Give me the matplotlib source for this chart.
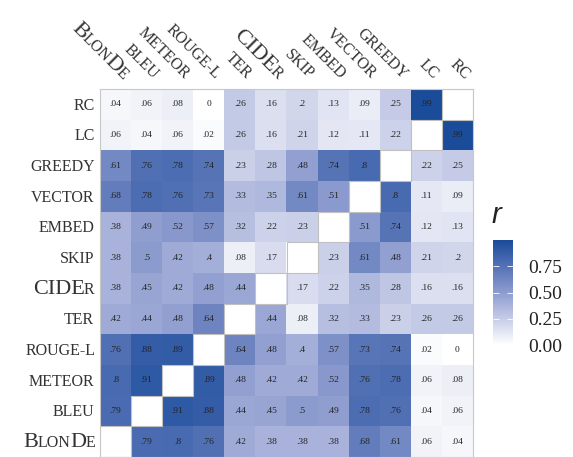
import numpy as np
import matplotlib
matplotlib.use("Agg")
import matplotlib.pyplot as plt
from matplotlib.colors import LinearSegmentedColormap
from matplotlib.font_manager import FontProperties
from matplotlib.patches import Rectangle
from matplotlib.textpath import TextPath
from matplotlib.transforms import offset_copy

# metric names; rows top->bottom, columns left->right
row_names = ["RC", "LC", "GREEDY", "VECTOR", "EMBED", "SKIP", "CIDEr",
             "TER", "ROUGE-L", "METEOR", "BLEU", "BlonDe"]
col_names = ["BlonDe", "BLEU", "METEOR", "ROUGE-L", "TER", "CIDEr",
             "SKIP", "EMBED", "VECTOR", "GREEDY", "LC", "RC"]

# small-caps pieces (text, is_big)
sc_pieces = {
    "BlonDe": [("B", True), ("LON", False), ("D", True), ("E", False)],
    "CIDEr": [("CIDE", True), ("R", False)],
}

nan = np.nan
r_RC = [.04, .06, .08, 0, .26, .16, .2, .13, .09, .25, .99, nan]
r_LC = [.06, .04, .06, .02, .26, .16, .21, .12, .11, .22, nan, .99]
r_GREEDY = [.61, .76, .78, .74, .23, .28, .48, .74, .8, nan, .22, .25]
r_VECTOR = [.68, .78, .76, .73, .33, .35, .61, .51, nan, .8, .11, .09]
r_EMBED = [.38, .49, .52, .57, .32, .22, .23, nan, .51, .74, .12, .13]
r_SKIP = [.38, .5, .42, .4, .08, .17, nan, .23, .61, .48, .21, .2]
r_CIDEr = [.38, .45, .42, .48, .44, nan, .17, .22, .35, .28, .16, .16]
r_TER = [.42, .44, .48, .64, nan, .44, .08, .32, .33, .23, .26, .26]
r_ROUGE = [.76, .88, .89, nan, .64, .48, .4, .57, .73, .74, .02, 0]
r_METEOR = [.8, .91, nan, .89, .48, .42, .42, .52, .76, .78, .06, .08]
r_BLEU = [.79, nan, .91, .88, .44, .45, .5, .49, .78, .76, .04, .06]
r_BlonDe = [nan, .79, .8, .76, .42, .38, .38, .38, .68, .61, .06, .04]

data = np.array([r_RC, r_LC, r_GREEDY, r_VECTOR, r_EMBED, r_SKIP, r_CIDEr,
                 r_TER, r_ROUGE, r_METEOR, r_BLEU, r_BlonDe])

cbar_ticks = [0.0, 0.25, 0.5, 0.75]

SERIF = "Liberation Serif"
SMALL = 11.5
BIG = 16

cmap = LinearSegmentedColormap.from_list(
    "wb", [(0, "#ffffff"), (0.25, "#c6cce7"), (0.5, "#8d9ccf"),
           (0.75, "#5472b6"), (1.0, "#1a4b9a")])


def fmt(v):
    s = f"{v:.2f}".rstrip("0").rstrip(".")
    if s.startswith("0."):
        s = s[1:]
    return s


fig = plt.figure(figsize=(5.73, 4.57), dpi=100)
ax = fig.add_axes([100 / 573, 0, 373 / 573, 368 / 457])
im = ax.imshow(np.ma.masked_invalid(data), cmap=cmap, vmin=0, vmax=1,
               aspect="auto", interpolation="nearest")
ax.set_xlim(-0.5, 11.5)
ax.set_ylim(11.5, -0.5)
ax.set_xticks([])
ax.set_yticks([])
for sp in ax.spines.values():
    sp.set_color("#c8c8c8")
    sp.set_linewidth(0.8)

n = len(row_names)
for i in range(n):
    for j in range(n):
        v = data[i, j]
        if np.isnan(v):
            ax.add_patch(Rectangle((j - 0.5, i - 0.5), 1, 1, fill=False,
                                   edgecolor="#c0c0c0", lw=0.8))
        else:
            ax.text(j, i, fmt(v), ha="center", va="center", fontsize=6.8,
                    family=SERIF, color="#222222")


def piece_width(s, size):
    # ink extent from pen origin, in points
    ext = TextPath((0, 0), s, size=size,
                   prop=FontProperties(family=SERIF)).get_extents()
    return ext.x1 + 0.01 * size


def draw_label(name, x, y, rotation, dx0=0, dy0=0):
    pieces = sc_pieces.get(name, [(name, False)])
    sizes = [BIG if big else SMALL for _, big in pieces]
    widths = [piece_width(s, sz) for (s, _), sz in zip(pieces, sizes)]
    total = sum(widths)
    th = np.deg2rad(rotation)
    pos = -total
    for (s, _), sz, w in zip(pieces, sizes, widths):
        tr = offset_copy(ax.transData, fig=fig, units="points",
                         x=dx0 + pos * np.cos(th), y=dy0 + pos * np.sin(th))
        ax.text(x, y, s, transform=tr, fontsize=sz, family=SERIF,
                color="#333333", rotation=rotation, rotation_mode="anchor",
                ha="left", va="baseline", clip_on=False)
        pos += w


for i, name in enumerate(row_names):
    draw_label(name, -0.5, i, 0, dx0=-4, dy0=-3.8)

for j, name in enumerate(col_names):
    draw_label(name, j + 0.2, -0.5, -45, dy0=7)

cax = fig.add_axes([493 / 573, 1 - 345 / 457, 20 / 573, 105 / 457])
cb = fig.colorbar(im, cax=cax, ticks=cbar_ticks)
cb.outline.set_visible(False)
cb.ax.set_yticklabels([f"{t:.2f}" for t in cbar_ticks])
cax.tick_params(direction="in", color="white", length=4, width=0.6,
                left=True, right=True, labelsize=14, pad=11)
for lab in cax.get_yticklabels():
    lab.set_family(SERIF)
    lab.set_color("#222222")

fig.text(492 / 573, 1 - 223 / 457, "r", family="Liberation Sans",
         style="italic", fontsize=21, va="baseline", color="#222222")

fig.savefig("out.png", dpi=100)
